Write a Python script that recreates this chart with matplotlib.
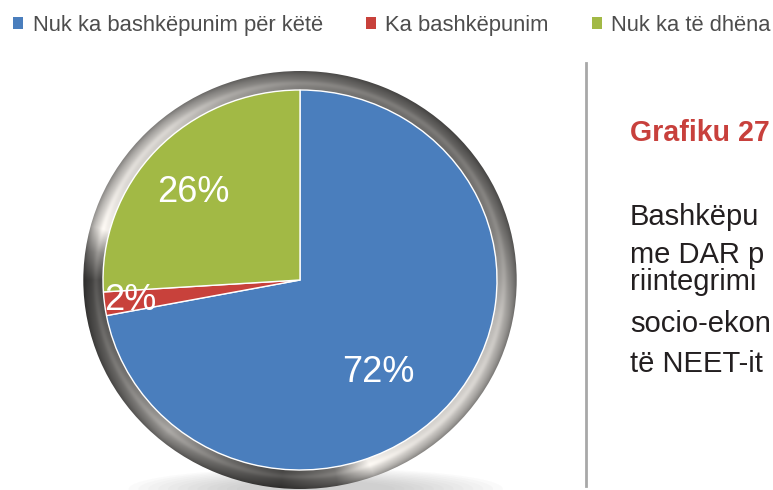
import numpy as np
import matplotlib
matplotlib.use("Agg")
from matplotlib import pyplot as plt
from matplotlib.patches import Wedge, Ellipse, Patch

plt.rcParams['font.family'] = ['Liberation Sans', 'DejaVu Sans']

# data
categories = ['Nuk ka bashkëpunim për këtë', 'Ka bashkëpunim', 'Nuk ka të dhëna']
shares = [72, 2, 26]
colors = ['#4a7ebd', '#c8413b', '#a2b945']
label_r = [0.63, 0.87, 0.71]        # radial position of % labels
label_shift = [-11, 0, 3]           # angular nudge (deg)

title = 'Grafiku 27'
body_lines = ['Bashkëpu', 'me DAR p', 'riintegrimi', 'socio-ekon', 'të NEET-it']
body_base = [225, 263, 290, 332, 372]   # baseline, px from top

W, H = 773, 490
fig = plt.figure(figsize=(W / 100, H / 100), dpi=100)
fig.patch.set_facecolor('white')

def fx(px):
    return px / W

def fy(py):
    return 1 - py / H

# pie axes: center at (300, 280) px, 1 unit = 197 px horiz, 190 px vert
cx, cy, half = 300, 280, 240
ax = fig.add_axes([fx(cx - half), (H - cy - half) / H, 2 * half / W, 2 * half / H])
wedges, _ = ax.pie(shares, colors=colors, startangle=90, counterclock=False,
                   radius=1, wedgeprops=dict(edgecolor='white', linewidth=1),
                   frame=False)

# soft shadow under the bezel
for k in range(12):
    ax.add_patch(Ellipse((0.08, -1.10), 1.9 - k * 0.1, 0.22 - k * 0.012,
                         facecolor='#7a7a7a', edgecolor='none', alpha=0.03, zorder=0))

# metallic ring
ang_pts = [-180, -150, -130, -110, -95, -80, -70, -55, -30, -10, 0, 15, 40, 70, 90, 110, 130, 150, 165, 172, 180]
gray_pts = [0.28, 0.45, 0.62, 0.4, 0.28, 0.45, 0.95, 0.85, 0.8, 0.72, 0.62, 0.5, 0.42, 0.44, 0.5, 0.62, 0.8, 0.85, 0.95, 0.55, 0.28]
r_in, r_out = 1.0, 1.10
g = np.linspace(-1.15, 1.15, 700)
X, Y = np.meshgrid(g, g)
R = np.hypot(X, Y)
A = np.degrees(np.arctan2(Y, X))
base = np.interp(A, ang_pts, gray_pts)
t = np.clip((R - r_in) / (r_out - r_in), 0, 1)
shade = base * (1 - 0.4 * t ** 2.5) + 0.07 * np.exp(-((t - 0.35) / 0.15) ** 2)
shade = np.clip(shade, 0, 1)
img = np.dstack([shade, shade * 0.985, shade * 0.965])
im = ax.imshow(img, extent=(-1.15, 1.15, -1.15, 1.15), origin='lower',
               interpolation='bilinear', aspect='auto', zorder=1)
ring = Wedge((0, 0), r_out, 0, 360, width=r_out - r_in, transform=ax.transData)
im.set_clip_path(ring)
for w in wedges:
    w.set_zorder(2)

ax.set_aspect('auto')
ax.set_xlim(-half / 197, half / 197)
ax.set_ylim(-half / 190, half / 190)
ax.axis('off')

# percent labels
for w, v, r, s in zip(wedges, shares, label_r, label_shift):
    mid = np.radians((w.theta1 + w.theta2) / 2 + s)
    ax.text(r * np.cos(mid), r * np.sin(mid), f'{v}%', color='white',
            fontsize=26, ha='center', va='center', zorder=3)

# legend
handles = [Patch(facecolor=c, edgecolor='none') for c in colors]
fig.legend(handles, categories, loc='upper left', bbox_to_anchor=(fx(13), fy(15)),
           ncol=3, frameon=False, fontsize=15.8, handlelength=0.45, handleheight=0.45,
           handletextpad=0.45, columnspacing=1.95, borderpad=0, borderaxespad=0,
           labelcolor='#4d4d4d')

# divider line
fig.add_artist(plt.Line2D([fx(586), fx(586)], [fy(63), fy(486)],
                          color='#a8a8a8', linewidth=2))

# side text
fig.text(fx(630), fy(141), title, color='#c8403c', fontsize=20.6,
         fontweight='bold', va='baseline')
for line, b in zip(body_lines, body_base):
    fig.text(fx(630), fy(b), line, color='#231f20', fontsize=21, va='baseline')

fig.savefig('out.png', dpi=100)
